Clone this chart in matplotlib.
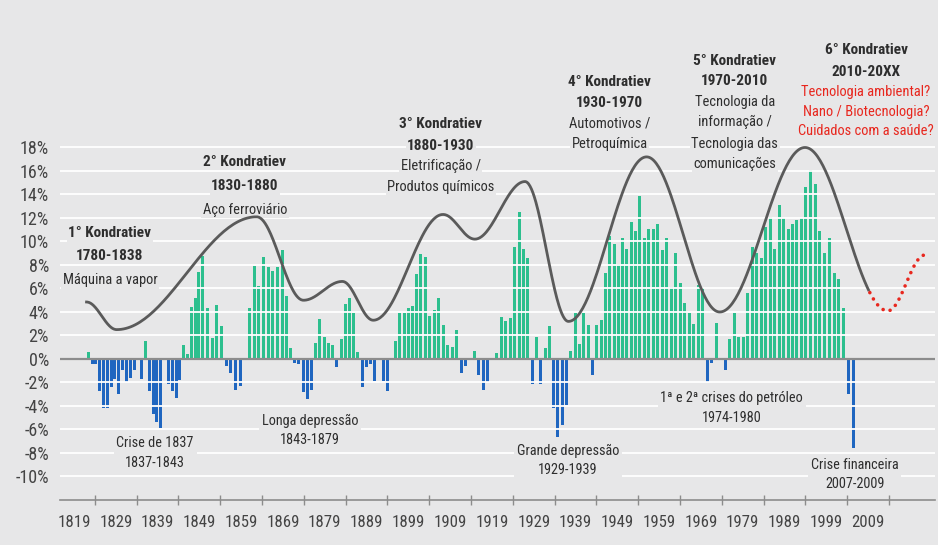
import numpy as np
import matplotlib.pyplot as plt
from matplotlib import font_manager

# yearly growth bars read left to right (%), 0 = no bar
growth = [
    0.6, -0.4, -0.4, -2.7, -4.2, -4.2, -2.4, -1.7, -3.0, -0.9, -2.0, -1.6,
    -0.9, 0, -1.7, 1.5, -2.7, -4.7, -5.4, -5.9, 0, -2.1, -2.7, -3.3,
    -1.8, 1.2, 0.4, 4.4, 5.2, 7.4, 8.8, 4.3, 1.8, 4.6, 2.8, -0.6,
    -1.2, -2.6, -2.3, 0, 4.3, 7.9, 6.2, 8.7, 7.8, 7.5, 7.8, 9.3,
    5.4, 0.9, -0.3, -0.4, -2.8, -3.4, -2.6, 1.4, 3.4, 1.9, 1.4, 1.2,
    -0.7, 1.7, 4.7, 5.2, 3.9, 0.6, -2.4, -0.7, -0.4, -1.9, 0, -1.9,
    -2.7, 0, 1.5, 3.9, 3.9, 4.3, 4.5, 7.2, 8.9, 8.7, 3.7, 4.2,
    5.2, 2.9, 1.2, 1.0, 2.5, -1.2, -0.6, 0, 0.7, -1.4, -2.6, -2.0,
    0, 0.5, 3.6, 3.2, 3.5, 9.5, 12.5, 9.4, 8.6, -2.1, 1.9, -2.1,
    0.9, 2.8, -4.2, -6.6, -5.6, -3.9, 0.7, 3.9, 1.3, 3.9, 2.9, -1.4,
    2.9, 3.3, 7.3, 10.5, 9.8, 8.1, 10.3, 9.4, 11.7, 10.9, 13.9, 10.3,
    11.1, 11.1, 11.5, 9.3, 10.3, 6.1, 9.0, 6.5, 4.8, 3.9, 3.0, 6.3,
    6.0, -2.0, -0.3, 3.1, 0, -0.9, 1.7, 3.9, 1.9, 1.9, 5.6, 9.5,
    9.0, 8.6, 11.2, 12.1, 9.4, 13.1, 12.0, 11.1, 11.5, 11.8, 12.0, 14.6,
    16.1, 14.9, 10.9, 9.0, 10.3, 7.3, 6.8, 4.3, -3.0, -7.6,
]
# where some of the bars sit on the year axis (bar index -> year position)
anchor_idx = [0, 30, 47, 80, 102, 130, 168, 177]
anchor_year = [1822.4, 1849.8, 1868.8, 1902.0, 1925.5, 1954.4, 1995.2, 2005.4]

# Kondratiev wave turning points (year, %)
wave_years = [1822.0, 1829.2, 1862.7, 1873.9, 1883.2, 1890.6, 1907.3, 1914.9,
              1926.9, 1937.3, 1956.0, 1973.5, 1993.9, 2013.7, 2022.6]
wave_vals = [4.85, 2.5, 12.1, 5.0, 6.6, 3.3, 12.3, 10.2,
             15.1, 3.2, 17.2, 4.0, 18.0, 4.1, 8.85]
forecast_from = 2009.4

year_labels = list(range(1819, 2010, 10))
pct_ticks = list(range(-10, 19, 2))

DARK = "#2e2e2e"
RED = "#e8271e"
# wave labels: (year, %, text, bold, color)
notes = [
    (1827.6, 10.7, "1° Kondratiev", True, DARK),
    (1827.6, 8.8, "1780-1838", True, DARK),
    (1827.6, 6.7, "Máquina a vapor", False, DARK),
    (1859.9, 16.8, "2° Kondratiev", True, DARK),
    (1859.9, 14.7, "1830-1880", True, DARK),
    (1859.9, 12.7, "Aço ferroviário", False, DARK),
    (1906.8, 20.0, "3° Kondratiev", True, DARK),
    (1906.8, 18.1, "1880-1930", True, DARK),
    (1906.8, 16.4, "Eletrificação /", False, DARK),
    (1906.8, 14.6, "Produtos químicos", False, DARK),
    (1947.2, 23.6, "4° Kondratiev", True, DARK),
    (1947.2, 21.8, "1930-1970", True, DARK),
    (1947.2, 20.0, "Automotivos /", False, DARK),
    (1947.2, 18.3, "Petroquímica", False, DARK),
    (1977.1, 25.4, "5° Kondratiev", True, DARK),
    (1977.1, 23.7, "1970-2010", True, DARK),
    (1977.1, 21.9, "Tecnologia da", False, DARK),
    (1977.1, 20.2, "informação /", False, DARK),
    (1977.1, 18.3, "Tecnologia das", False, DARK),
    (1977.1, 16.6, "comunicações", False, DARK),
    (2008.5, 26.3, "6° Kondratiev", True, DARK),
    (2008.5, 24.4, "2010-20XX", True, DARK),
    (2008.5, 22.7, "Tecnologia ambiental?", False, RED),
    (2008.5, 21.0, "Nano / Biotecnologia?", False, RED),
    (2008.5, 19.4, "Cuidados com a saúde?", False, RED),
]
# crisis labels: (year, %, text)
crises = [
    (1838.4, -8.0, "Crise de 1837\n1837-1843"),
    (1875.5, -6.1, "Longa depressão\n1843-1879"),
    (1937.2, -8.65, "Grande depressão\n1929-1939"),
    (1976.4, -4.15, "1ª e 2ª crises do petróleo\n1974-1980"),
    (2005.8, -9.85, "Crise financeira\n2007-2009"),
]

BG = "#e7e7e8"

# pick the narrowest font that is installed
fonts = {(f.name, f.stretch) for f in font_manager.fontManager.ttflist}
names = {n for n, _ in fonts}
if "Roboto Condensed" in names:
    FONT, STRETCH, SIZE = "Roboto Condensed", "normal", 11.0
elif "Liberation Sans Narrow" in names:
    FONT, STRETCH, SIZE = "Liberation Sans Narrow", "normal", 11.0
elif ("DejaVu Sans", "condensed") in fonts:
    FONT, STRETCH, SIZE = "DejaVu Sans", "condensed", 9.2
else:
    FONT, STRETCH, SIZE = "Roboto", "normal", 9.4


def smooth_wave(xs, ys, n=60):
    # half-cosine between turning points
    px, py = [], []
    for i in range(len(xs) - 1):
        t = np.linspace(0, 1, n, endpoint=False)
        s = (1 - np.cos(np.pi * t)) / 2
        px.extend(xs[i] + (xs[i + 1] - xs[i]) * t)
        py.extend(ys[i] + (ys[i + 1] - ys[i]) * s)
    px.append(xs[-1])
    py.append(ys[-1])
    return np.array(px), np.array(py)


fig = plt.figure(figsize=(9.38, 5.45), dpi=100, facecolor=BG)
ax = fig.add_axes([60 / 938, 45 / 545, 875 / 938, 490 / 545])
ax.set_facecolor(BG)
ax.set_xlim(1815.65, 2025.0)
ax.set_ylim(-12, 29.7)

# bars
growth = np.array(growth)
bar_x = np.interp(np.arange(len(growth)), anchor_idx, anchor_year)
colors = np.where(growth >= 0, "#2dbf8e", "#1f66c0")
ax.bar(bar_x, growth, width=0.72, color=colors, zorder=1)

# grid on top of bars
for v in pct_ticks:
    if v == 0:
        ax.axhline(0, color="#8c8c8c", lw=1.6, zorder=3)
    else:
        ax.axhline(v, color="white", lw=1.3, zorder=2)

# wave line
wx, wy = smooth_wave(wave_years, wave_vals)
solid = wx <= forecast_from
ax.plot(wx[solid], wy[solid], color="#5a5a5a", lw=2, zorder=4)
ax.plot(wx[~solid], wy[~solid], color=RED, lw=2.6,
        linestyle=(0, (0.01, 2.0)), dash_capstyle="round", zorder=4)

for x, y, txt, bold, col in notes:
    ax.text(x, y, txt, ha="center", va="center",
            fontsize=SIZE if bold else SIZE * 0.95,
            family=FONT, fontstretch=STRETCH,
            fontweight="bold" if bold else "normal", color=col,
            zorder=3.5, bbox=dict(facecolor=BG, edgecolor="none", pad=1.0))

for x, y, txt in crises:
    ax.text(x, y, txt, ha="center", va="center", fontsize=SIZE * 0.93,
            family=FONT, fontstretch=STRETCH, color=DARK, linespacing=1.5,
            zorder=3.5, bbox=dict(facecolor=BG, edgecolor="none", pad=2.0))

# axes
for s in ["top", "right", "left"]:
    ax.spines[s].set_visible(False)
ax.spines["bottom"].set_color("#8c8c8c")
ax.spines["bottom"].set_linewidth(1.2)
ax.set_xticks(year_labels)
ax.set_xticklabels([str(y) for y in year_labels])
ax.set_xticks([y + 5 for y in year_labels], minor=True)
ax.tick_params(axis="x", which="major", length=0, pad=11)
ax.tick_params(axis="x", which="minor", length=7, direction="inout", color="#8c8c8c", width=1)
ax.set_yticks(pct_ticks)
ax.set_yticklabels([f"{v}%" for v in pct_ticks])
ax.tick_params(axis="y", length=0, pad=8)
for lab in ax.get_xticklabels():
    lab.set_family(FONT)
    lab.set_stretch(STRETCH)
    lab.set_fontsize(SIZE * 1.1)
    lab.set_color("#444444")
for lab in ax.get_yticklabels():
    lab.set_family(FONT)
    lab.set_stretch(STRETCH)
    lab.set_fontsize(SIZE * 1.18)
    lab.set_color("#444444")

fig.savefig("out.png", dpi=100, facecolor=BG)
